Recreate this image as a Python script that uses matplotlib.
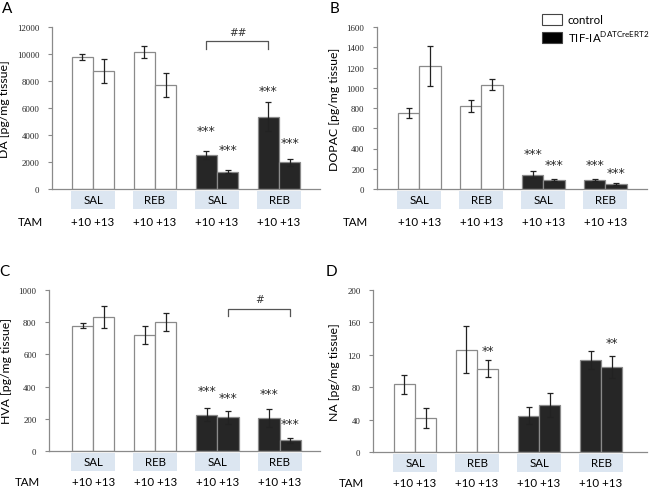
import matplotlib
matplotlib.use('Agg')
import matplotlib.pyplot as plt
import matplotlib.transforms as mtransforms
from matplotlib.patches import Rectangle

# data: order is group (SAL, REB, SAL, REB) x TAM day (+10, +13)
groups = ['SAL', 'REB', 'SAL', 'REB']
days_label = '+10 +13'

da_mean = [9780, 8740, 10150, 7670, 2550, 1290, 5370, 1980]
da_err = [200, 870, 430, 890, 300, 100, 1110, 250]

dopac_mean = [749, 1215, 818, 1030, 142, 92, 90, 48]
dopac_err = [50, 195, 58, 52, 34, 10, 12, 7]

hva_mean = [777, 835, 720, 802, 225, 210, 206, 66]
hva_err = [15, 68, 58, 57, 40, 40, 55, 14]

na_mean = [83.5, 42, 126, 103, 45, 58, 114, 105]
na_err = [12, 12, 29, 11, 10, 15, 11, 14]

# significance marks: (bar index, text, y)
da_stars = [(4, '***', 4300), (5, '***', 2900), (6, '***', 7300), (7, '***', 3450)]
dopac_stars = [(4, '***', 355), (5, '***', 240), (6, '***', 240), (7, '***', 165)]
hva_stars = [(4, '***', 378), (5, '***', 333), (6, '***', 355), (7, '***', 168)]
na_stars = [(3, '**', 125), (7, '**', 135)]

sans = 'Lato'
serif = 'Liberation Serif'
W, H = 649, 489
fig = plt.figure(figsize=(W / 100, H / 100), dpi=100)

gray = '#8a8a8a'
bw = 0.34


def bar_x(i):
    g = i // 2
    d = i % 2
    return g + (d - 0.5) * bw


def panel(letter, box, xlim, means, errs, ylim, yticks, ylabel, stars, bracket=None, tam_off=33):
    left, right, top, bottom = box
    ax = fig.add_axes([left / W, 1 - bottom / H, (right - left) / W, (bottom - top) / H])
    ah = bottom - top
    xs = [bar_x(i) for i in range(8)]
    cols = ['white'] * 4 + ['#262626'] * 4
    ax.bar(xs, means, width=bw, color=cols, edgecolor=gray, linewidth=0.9, zorder=2)
    ax.errorbar(xs, means, yerr=errs, fmt='none', ecolor='#222222', elinewidth=0.9,
                capsize=2.2, capthick=0.9, zorder=3)
    ax.set_xlim(*xlim)
    ax.set_ylim(*ylim)
    ax.set_yticks(yticks)
    ax.set_yticklabels([str(t) for t in yticks], fontfamily=serif, fontsize=6.3, color='#222222')
    ax.tick_params(axis='y', length=3, width=0.8, color=gray, pad=6)
    ax.set_xticks([])
    for s in ['top', 'right']:
        ax.spines[s].set_visible(False)
    for s in ['left', 'bottom']:
        ax.spines[s].set_color(gray)
        ax.spines[s].set_linewidth(0.9)
    ax.set_ylabel(ylabel, fontfamily=sans, fontsize=8.8, labelpad=5)

    for i, txt, y in stars:
        ax.text(xs[i], y, txt, ha='center', va='center', fontsize=9, color='#2a2a2a',
                fontfamily='DejaVu Sans')

    if bracket is not None:
        i0, i1, ytop, ybot, ylab, lab = bracket
        ax.plot([xs[i0], xs[i0], xs[i1], xs[i1]], [ybot, ytop, ytop, ybot], color='#555555',
                lw=0.9, clip_on=False)
        ax.text((xs[i0] + xs[i1]) / 2, ylab, lab, ha='center', va='center', fontsize=7.5,
                color='#333333', fontfamily='DejaVu Sans')

    # category boxes and TAM labels below the axis
    tr_box = mtransforms.offset_copy(ax.get_xaxis_transform(), fig=fig, y=-20, units='dots')
    tr_txt = mtransforms.offset_copy(ax.get_xaxis_transform(), fig=fig, y=-11, units='dots')
    tr_tam = mtransforms.offset_copy(ax.get_xaxis_transform(), fig=fig, y=-tam_off, units='dots')
    for g, name in enumerate(groups):
        ax.add_patch(Rectangle((g - 0.355, 0), 0.71, 18 / ah, transform=tr_box,
                               facecolor='#dce6f1', edgecolor='none', clip_on=False))
        ax.text(g, 0, name, transform=tr_txt, ha='center', va='center', fontsize=8.3,
                fontfamily=sans)
        ax.text(g, 0, days_label, transform=tr_tam, ha='center', va='center', fontsize=8.3,
                fontfamily=sans)
    ax.text(xlim[0] - 0.15, 0, 'TAM', transform=tr_tam, ha='right', va='center', fontsize=8.3,
            fontfamily=sans)

    fig.text((left - 50) / W if left < 300 else (left - 47) / W, 1 - (top - 19) / H, letter,
             fontsize=11, fontfamily=sans, va='center', ha='left')
    return ax


panel('A', (52, 320, 28, 190), (-0.661, 3.661), da_mean, da_err, (0, 12000),
      [0, 2000, 4000, 6000, 8000, 10000, 12000], 'DA [pg/mg tissue]', da_stars,
      bracket=(4, 6, 10950, 10350, 11650, '##'))
panel('B', (377, 647, 28, 190), (-0.685, 3.67), dopac_mean, dopac_err, (0, 1600),
      [0, 200, 400, 600, 800, 1000, 1200, 1400, 1600], 'DOPAC [pg/mg tissue]', dopac_stars)
panel('C', (49, 320, 291, 452), (-0.71, 3.65), hva_mean, hva_err, (0, 1000),
      [0, 200, 400, 600, 800, 1000], 'HVA [pg/mg tissue]', hva_stars,
      bracket=(5, 7, 880, 839, 942, '#'), tam_off=31)
panel('D', (373, 647, 291, 453), (-0.677, 3.74), na_mean, na_err, (0, 200),
      [0, 40, 80, 120, 160, 200], 'NA [pg/mg tissue]', na_stars, tam_off=31)

# legend
fig.patches.append(Rectangle((542 / W, 1 - 26 / H), 20 / W, 11 / H, transform=fig.transFigure,
                             facecolor='white', edgecolor='#444444', linewidth=0.8))
fig.patches.append(Rectangle((542 / W, 1 - 44 / H), 20 / W, 11 / H, transform=fig.transFigure,
                             facecolor='black', edgecolor='#444444', linewidth=0.8))
fig.text(568 / W, 1 - 20 / H, 'control', fontsize=8.3, fontfamily=sans, va='center')
fig.text(568 / W, 1 - 38.5 / H, r'TIF-IA$^{\mathregular{DATCreERT2}}$', fontsize=8.3,
         fontfamily=sans, va='center')

fig.savefig('out.png', dpi=100)
